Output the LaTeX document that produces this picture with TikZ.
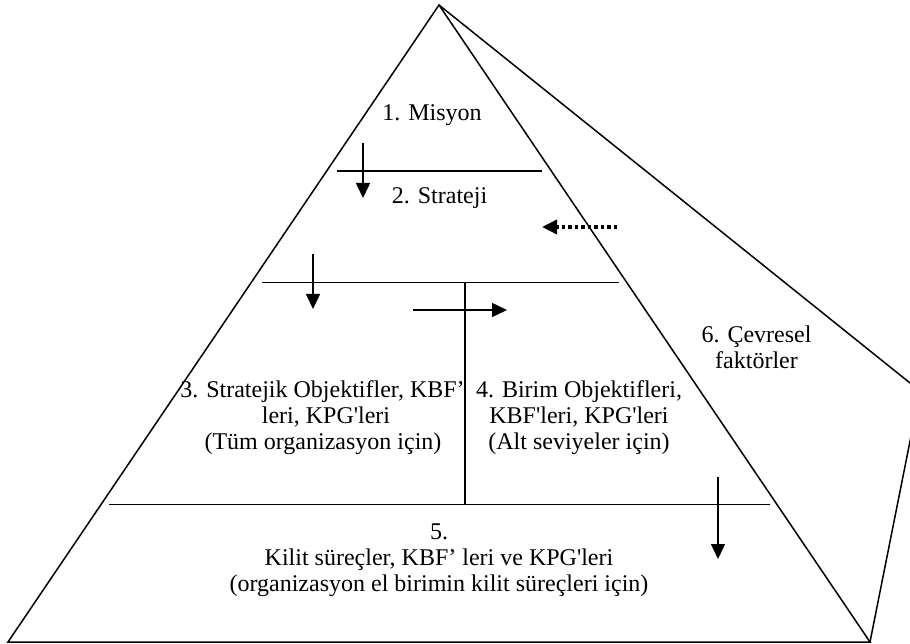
\documentclass[tikz,border=0pt]{standalone}
\usepackage{fontspec}
\setmainfont{Liberation Serif}
\usetikzlibrary{arrows.meta}
\begin{document}
\begin{tikzpicture}[x=1pt,y=-1pt,
  edge/.style={line width=1.5pt,line join=miter},
  flow/.style={line width=1.5pt,-{Triangle[length=15pt,width=14pt]}},
  envflow/.style={line width=3.5pt,dash pattern=on 3.5pt off 3pt,-{Triangle[length=15pt,width=14pt]}},
  lbl/.style={anchor=base,inner sep=0pt,font=\fontsize{24}{26}\selectfont}]
\useasboundingbox (0,0) rectangle (910,644);
\fill[white] (0,0) rectangle (910,644);

% pyramid corners
\coordinate (apex) at (439,5);
\coordinate (footL) at (8,642);
\coordinate (footR) at (870,642);
\coordinate (backV) at (920,391);

% outer pyramid and the side face (environment)
\draw[edge] (apex) -- (footL) -- (footR) -- cycle;
\begin{scope}
  \clip (0,0) rectangle (910,644);
  \draw[edge] (apex) -- (backV) -- (footR);
\end{scope}

% level dividers
\coordinate (d1w) at (337,171);  \coordinate (d1e) at (542,171);
\coordinate (d2w) at (262,282.5);\coordinate (d2e) at (619,282.5);
\coordinate (d3w) at (109,504.3);\coordinate (d3e) at (770,504.3);
\coordinate (vtop) at (465,282.5);\coordinate (vbot) at (465,504.3);
\draw[edge] (d1w) -- (d1e);
\draw[edge] (d2w) -- (d2e);
\draw[edge] (d3w) -- (d3e);
\draw[edge] (vtop) -- (vbot);

% flow arrows
\coordinate (a1s) at (363,143);  \coordinate (a1e) at (363,198);
\coordinate (a2s) at (313,254);  \coordinate (a2e) at (313,309);
\coordinate (a3s) at (413,310);  \coordinate (a3e) at (507,310);
\coordinate (a4s) at (718,477);  \coordinate (a4e) at (718,559);
\coordinate (a5s) at (617,227);  \coordinate (a5e) at (542,227);
\draw[flow] (a1s) -- (a1e);
\draw[flow] (a2s) -- (a2e);
\draw[flow] (a3s) -- (a3e);
\draw[flow] (a4s) -- (a4e);
\draw[envflow] (a5s) -- (a5e);

% labels
\node[lbl] (t1) at (432,121) {1. Misyon};
\node[lbl] (t2) at (439.5,204) {2. Strateji};
\node[lbl] (t3a) at (322.5,397) {3. Stratejik Objektifler, KBF’};
\node[lbl] (t3b) at (326,423) {leri, KPG\textquotesingle leri};
\node[lbl] (t3c) at (323,449) {(Tüm organizasyon için)};
\node[lbl] (t4a) at (579,397) {4. Birim Objektifleri,};
\node[lbl] (t4b) at (579,423) {KBF\textquotesingle leri, KPG\textquotesingle leri};
\node[lbl] (t4c) at (579,449) {(Alt seviyeler için)};
\node[lbl] (t5a) at (439,539) {5.};
\node[lbl] (t5b) at (439,565) {Kilit süreçler, KBF’ leri ve KPG\textquotesingle leri};
\node[lbl] (t5c) at (439,591) {(organizasyon el birimin kilit süreçleri için)};
\node[lbl] (t6a) at (756.5,342) {6. Çevresel};
\node[lbl] (t6b) at (756.5,368) {faktörler};
\end{tikzpicture}
\end{document}
